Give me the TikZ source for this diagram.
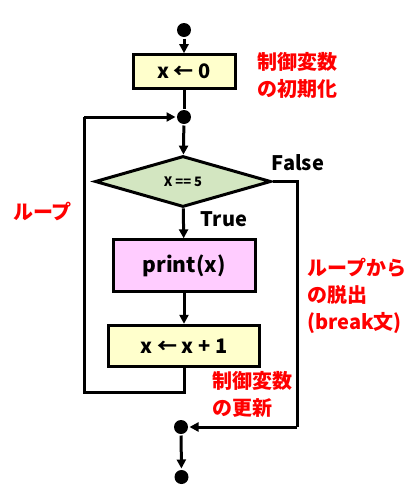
\documentclass[tikz,border=0pt]{standalone}
\usepackage{fontspec}
\setmainfont{Noto Sans CJK JP}
\usetikzlibrary{shapes.geometric,arrows.meta}
\definecolor{boxyellow}{HTML}{FFFFCC}
\definecolor{boxpink}{HTML}{FFCCFF}
\definecolor{boxgreen}{HTML}{D3E6C1}
\definecolor{labred}{HTML}{FF0000}
\begin{document}
\begin{tikzpicture}[x=1pt,y=-1pt,
  line width=3pt,
  dotnode/.style={circle,fill=black,draw=none,minimum size=14pt,inner sep=0pt},
  procbox/.style={draw=black,line width=3pt,inner sep=0pt,font=\fontsize{20}{24}\selectfont\bfseries},
  redlab/.style={text=labred,align=left,inner sep=0pt,font=\fontsize{20}{27}\selectfont\bfseries},
  plainlab/.style={text=black,inner sep=0pt,font=\fontsize{20}{23}\selectfont\bfseries},
  arr/.style={-{Triangle[length=9pt,width=9pt]},line width=3pt},
  ln/.style={line width=3pt}
]
\useasboundingbox (0,0) rectangle (415,499);
% nodes
\node[dotnode] (s0) at (184,30) {};
\node[procbox,fill=boxyellow,minimum width=102pt,minimum height=34pt] (b1) at (184,71.7) {x ← 0};
\node[dotnode] (d2) at (184,117) {};
\node[diamond,draw=black,line width=3pt,fill=boxgreen,inner sep=0pt,minimum width=176pt,minimum height=51pt,font=\fontsize{13}{15}\selectfont\bfseries] (dm) at (183,181.5) {X == 5};
\node[procbox,fill=boxpink,minimum width=142pt,minimum height=52pt,font=\fontsize{21}{24}\selectfont\bfseries] (p) at (184,265.8) {print(x)};
\node[procbox,fill=boxyellow,minimum width=151pt,minimum height=41pt] (b3) at (184,345.8) {x ← x + 1};
\node[dotnode] (d3) at (181,427) {};
\node[dotnode] (d4) at (181.5,477) {};
% coordinates
\coordinate (c1) at (184,392);
\coordinate (c2) at (84,392);
\coordinate (c3) at (84,117);
\coordinate (f1) at (297,181.5);
\coordinate (f2) at (297,427);
% connectors
\draw[arr] (s0) -- (b1);
\draw[ln] (b1) -- (d2);
\draw[arr] (d2) -- (dm);
\draw[arr] (dm) -- (p);
\draw[arr] (p) -- (b3);
\draw[ln,line join=miter] (b3.south) -- (c1) -- (c2) -- (c3);
\draw[arr] (c3) -- (d2);
\draw[ln,line join=miter] (dm.east) -- (f1) -- (f2);
\draw[arr] (f2) -- (d3);
\draw[arr] (d3) -- (d4);
% labels
\node[redlab] (l1) at (297,75) {制御変数\\の初期化};
\node[plainlab] (lf) at (298,163) {False};
\node[plainlab] (lt) at (224,219) {True};
\node[redlab] (l2) at (42.5,212) {ループ};
\node[redlab] (l3) at (356.7,296) {ループから\\の脱出\\(break文)};
\node[redlab] (l4) at (252,394) {制御変数\\の更新};
\end{tikzpicture}
\end{document}
